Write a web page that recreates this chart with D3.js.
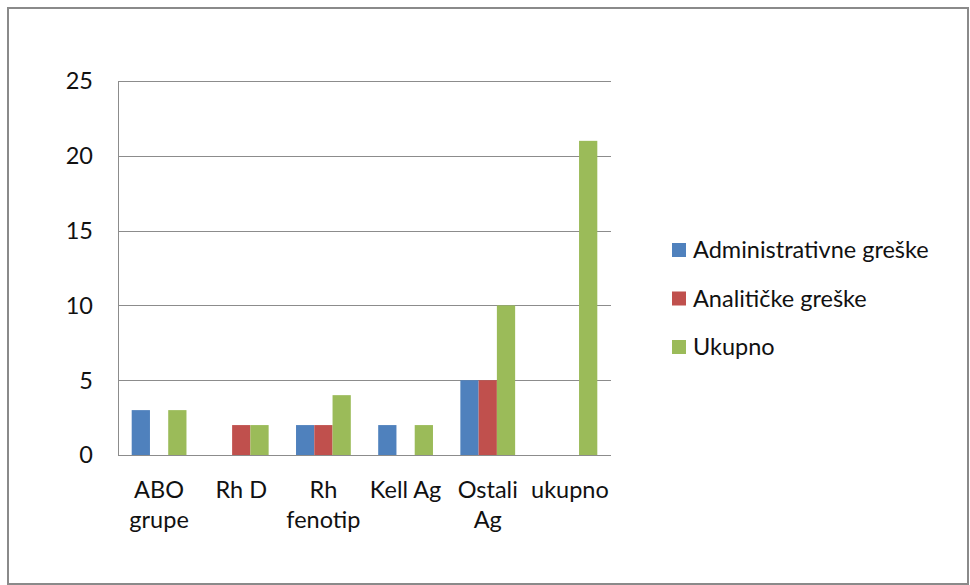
<!DOCTYPE html>
<html>
<head>
<meta charset="utf-8">
<script src="https://cdn.jsdelivr.net/npm/d3@7"></script>
<style>
  html, body { margin: 0; padding: 0; background: #fff; }
  svg text { font-family: Lato, "Open Sans", sans-serif; fill: #111; }
</style>
</head>
<body>
<svg id="chart" width="970" height="585"></svg>
<script>
// data
const categories = [['ABO', 'grupe'], ['Rh D'], ['Rh', 'fenotip'], ['Kell Ag'], ['Ostali', 'Ag'], ['ukupno']];
const seriesNames = ['Administrativne greške', 'Analitičke greške', 'Ukupno'];
const administrativne = [3, 0, 2, 2, 5, 0];
const analiticke = [0, 2, 2, 0, 5, 0];
const ukupno = [3, 2, 4, 2, 10, 21];
const yTicks = [0, 5, 10, 15, 20, 25];
const colors = ['#4F81BD', '#C0504D', '#9BBB59'];

const seriesValues = [administrativne, analiticke, ukupno];

const svg = d3.select('#chart');

const margin = {top: 81, left: 118, right: 359, bottom: 130};
const width = 970 - margin.left - margin.right;
const height = 585 - margin.top - margin.bottom;
const fontSize = '23.5px';

// outer frame
svg.append('rect')
  .attr('x', 8).attr('y', 8)
  .attr('width', 960).attr('height', 576)
  .attr('fill', 'none')
  .attr('stroke', '#8a8a8a')
  .attr('stroke-width', 2);

const g = svg.append('g')
  .attr('transform', 'translate(' + margin.left + ',' + margin.top + ')');

const x0 = d3.scaleBand()
  .domain(d3.range(categories.length))
  .range([0, width])
  .paddingInner(0)
  .paddingOuter(0);

const x1 = d3.scaleBand()
  .domain(d3.range(seriesNames.length))
  .range([0, x0.bandwidth()])
  .paddingInner(0)
  .paddingOuter(0.75);

const y = d3.scaleLinear()
  .domain([0, 25])
  .range([height, 0]);

// gridlines
g.append('g')
  .selectAll('line')
  .data(yTicks)
  .enter().append('line')
  .attr('x1', 0).attr('x2', width)
  .attr('y1', d => Math.round(y(d)) + 0.5)
  .attr('y2', d => Math.round(y(d)) + 0.5)
  .attr('stroke', '#8c8c8c')
  .attr('stroke-width', 1);

// left axis line
g.append('line')
  .attr('x1', 0.5).attr('x2', 0.5)
  .attr('y1', 0).attr('y2', height)
  .attr('stroke', '#8c8c8c');

// y labels
g.append('g')
  .selectAll('text')
  .data(yTicks)
  .enter().append('text')
  .attr('x', -25)
  .attr('y', d => y(d))
  .attr('dy', '0.36em')
  .attr('text-anchor', 'end')
  .style('font-size', fontSize)
  .text(d => d);

// bars
const groups = g.selectAll('.grp')
  .data(categories)
  .enter().append('g')
  .attr('class', 'grp')
  .attr('transform', (d, i) => 'translate(' + x0(i) + ',0)');

groups.selectAll('rect')
  .data((d, i) => seriesValues.map((vals, s) => ({s: s, v: vals[i]})))
  .enter().append('rect')
  .filter(d => d.v > 0)
  .attr('x', d => x1(d.s))
  .attr('width', x1.bandwidth())
  .attr('y', d => y(d.v))
  .attr('height', d => height - y(d.v))
  .attr('fill', d => colors[d.s]);

// x labels
groups.append('text')
  .attr('x', x0.bandwidth() / 2)
  .attr('text-anchor', 'middle')
  .style('font-size', fontSize)
  .selectAll('tspan')
  .data(d => d)
  .enter().append('tspan')
  .attr('x', x0.bandwidth() / 2)
  .attr('y', (d, i) => height + 43 + i * 30)
  .text(d => d);

// legend
const legend = svg.append('g')
  .attr('transform', 'translate(672,243)');

const item = legend.selectAll('g')
  .data(seriesNames)
  .enter().append('g')
  .attr('transform', (d, i) => 'translate(0,' + (i * 48.5) + ')');

item.append('rect')
  .attr('width', 14).attr('height', 14)
  .attr('fill', (d, i) => colors[i]);

item.append('text')
  .attr('x', 21)
  .attr('y', 7)
  .attr('dy', '0.36em')
  .style('font-size', fontSize)
  .text(d => d);
</script>
</body>
</html>
